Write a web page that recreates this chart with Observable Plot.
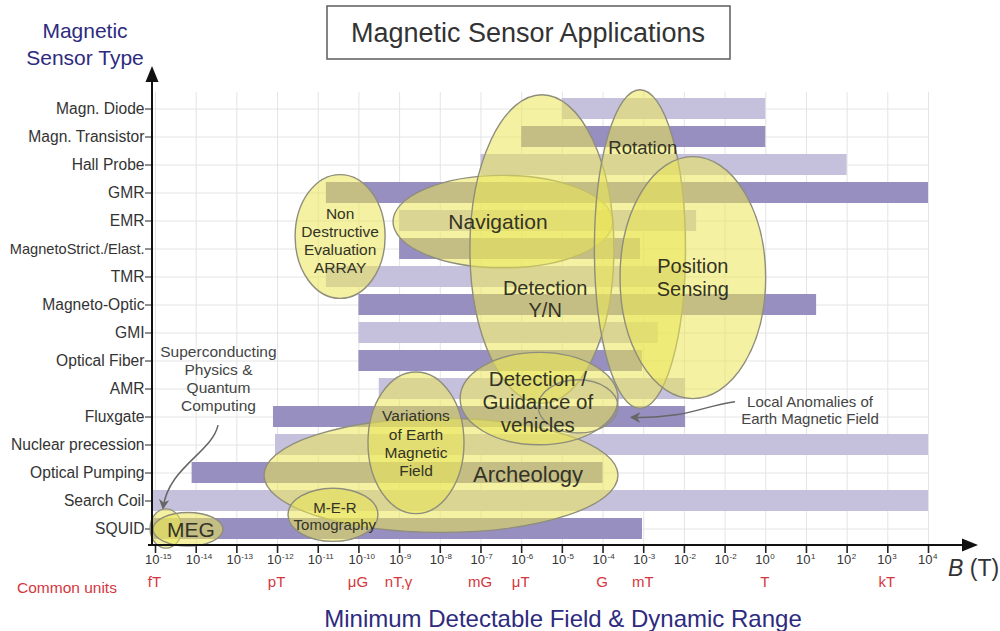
<!DOCTYPE html>
<html><head><meta charset="utf-8">
<script src="https://cdn.jsdelivr.net/npm/d3@7"></script>
<script src="https://cdn.jsdelivr.net/npm/@observablehq/plot@0.6"></script>
<style>body{margin:0;background:#fff} #chart{width:1000px;height:631px}</style>
</head><body><div id="chart"></div>
<script>
// ---- data ----
const categories = ["Magn. Diode","Magn. Transistor","Hall Probe","GMR","EMR","MagnetoStrict./Elast.","TMR","Magneto-Optic","GMI","Optical Fiber","AMR","Fluxgate","Nuclear precession","Optical Pumping","Search Coil","SQUID"];
// log10 of minimum detectable field and upper end of dynamic range (T)
const rangeStart = [-5, -6, -7, -10.8, -9, -9, -10.8, -10, -10, -10, -9.5, -12.1, -12.05, -14.1, -15.07, -15.07];
const rangeEnd   = [0, 0, 2, 4, -1.7, -3.08, -2, 1.25, -2.64, -3.03, -1.97, -1.97, 4, -4, 4, -3.03];
const tickExponents = [-15,-14,-13,-12,-11,-10,-9,-8,-7,-6,-5,-4,-3,-2,-1,0,1,2,3,4];
const tickExponentLabels = ["-15","-14","-13","-12","-11","-10","-9","-8","-7","-6","-5","-4","-3","-2","-2","0","1","2","3","4"];
const unitNames = ["fT","pT","μG","nT,γ","mG","μT","G","mT","T","kT"];
const unitExponents = [-15,-12,-10,-9,-7,-6,-4,-3,0,3];
// application areas: centre (log10 T, sensor row) and radii (decades, rows)
const ellipses = [
  {cx:-7.97, cy:13.10, rx:4.35, ry:2.04},   // Archeology
  {cx:-8.585, cy:11.94, rx:1.18, ry:2.53},  // Variations of Earth field
  {cx:-10.625, cy:14.51, rx:1.106, ry:0.95},// M-E-R
  {cx:-14.73, cy:15.0, rx:0.39, ry:0.70},   // superconducting
  {cx:-14.19, cy:15.03, rx:0.86, ry:0.60},  // MEG
  {cx:-10.45, cy:4.57, rx:1.106, ry:2.21},  // NDE
  {cx:-6.45, cy:4.04, rx:2.70, ry:1.65},    // Navigation
  {cx:-5.49, cy:5.02, rx:1.77, ry:5.51},    // Detection Y/N
  {cx:-3.08, cy:5.02, rx:1.12, ry:5.69},    // Rotation
  {cx:-1.78, cy:6.04, rx:1.79, ry:4.32},    // Position sensing
  {cx:-5.56, cy:10.36, rx:1.94, ry:1.65},   // Detection / guidance
  {cx:-4.60, cy:10.64, rx:0.98, ry:0.95, nofill:true} // local anomalies
];
const ellipseLabels = [
  {lines:["Non","Destructive","Evaluation","ARRAY"], cx:-10.45, cy:4.71, size:15.5, lh:17.8},
  {lines:["Navigation"], cx:-6.57, cy:4.04, size:21},
  {lines:["Detection","Y/N"], cx:-5.41, cy:6.81, size:20, lh:22.5},
  {lines:["Rotation"], cx:-3.01, cy:1.40, size:18.5},
  {lines:["Position","Sensing"], cx:-1.78, cy:6.02, size:20, lh:23},
  {lines:["Detection /","Guidance of","vehicles"], cx:-5.59, cy:10.47, size:20.5, lh:23},
  {lines:["Archeology"], cx:-5.83, cy:13.07, size:22},
  {lines:["Variations","of Earth","Magnetic","Field"], cx:-8.585, cy:11.96, size:15.5, lh:18.3},
  {lines:["M-E-R","Tomography"], cx:-10.58, cy:14.56, size:15, lh:17},
  {lines:["MEG"], cx:-14.115, cy:15.03, size:21}
];
const notes = [
  {lines:["Superconducting","Physics &","Quantum","Computing"], cx:-13.44, cy:9.66, size:15.5, lh:18},
  {lines:["Local Anomalies of","Earth Magnetic Field"], cx:1.10, cy:10.77, size:15, lh:17}
];
const arrows = [
  [[-13.45,11.31],[-13.60,12.29],[-14.68,12.82],[-14.80,14.26]],
  [[-0.744,10.47],[-1.60,10.64],[-1.85,11.06],[-3.28,11.03]]
];

// ---- chart ----
const FONT = "'Liberation Sans', Arial, Helvetica, sans-serif";
const DARK = "#968fbf", LIGHT = "#c5c0dc";
const sensors = categories.map((name, i) => ({name, lo: 10 ** rangeStart[i], hi: 10 ** rangeEnd[i], shade: i % 2}));
const W = 1000, H = 631, mL = 152, mR = 72, mT = 92, mB = 86;

const plot = Plot.plot({
  width: W, height: H, marginLeft: mL, marginRight: mR, marginTop: mT, marginBottom: mB,
  style: {fontFamily: FONT, background: "white", overflow: "visible"},
  x: {type: "log", domain: [1e-15, 1e4], range: [155, 928]},
  y: {type: "band", domain: categories, paddingInner: 0.26, paddingOuter: 0.087},
  marks: [
    Plot.gridX(tickExponents.map(e => 10 ** e), {stroke: "#e4e4e4", strokeOpacity: 1}),
    Plot.gridY(categories, {stroke: "#e4e4e4", strokeOpacity: 1}),
    Plot.barX(sensors, {x1: "lo", x2: "hi", y: "name", fill: d => d.shade ? DARK : LIGHT}),
    Plot.axisY({tickSize: 7, tickFormat: () => "", color: "#222", label: null}),
    Plot.text(categories, {y: d => d, frameAnchor: "left", dx: -8, textAnchor: "end",
      fontSize: d => d.length > 18 ? 14.6 : 15.6, fill: "#333"}),
    Plot.axisX(tickExponents.map(e => 10 ** e), {tickSize: 8, tickFormat: () => "", label: null, stroke: "#222", strokeWidth: 1.6}),
    Plot.text(tickExponents, {x: e => 10 ** e, text: () => "10", frameAnchor: "bottom", dy: 18.5, dx: 4, textAnchor: "end", fontSize: 13, fill: "#333"}),
    Plot.text(tickExponentLabels, {x: (d, i) => 10 ** tickExponents[i], text: d => d, frameAnchor: "bottom", dy: 13.5, dx: 4.5, textAnchor: "start", fontSize: 8, fill: "#333"}),
    Plot.text(unitNames, {x: (d, i) => 10 ** unitExponents[i], text: d => d, frameAnchor: "bottom", dy: 41, dx: -1, fontSize: 15, fill: "#d4373d"})
  ]
});
document.getElementById("chart").append(plot);

const svg = d3.select(plot);
const xs = plot.scale("x"), ys = plot.scale("y");
const X = d => xs.apply(10 ** d);
const step = ys.apply(categories[1]) - ys.apply(categories[0]);
const bw = ys.bandwidth ?? step * 0.74;
const y0 = ys.apply(categories[0]) + bw / 2;
const Y = r => y0 + r * step;

const defs = svg.append("defs");
defs.append("marker").attr("id", "ah").attr("viewBox", "0 0 10 10").attr("refX", 8).attr("refY", 5)
  .attr("markerWidth", 7).attr("markerHeight", 7).attr("orient", "auto-start-reverse")
  .append("path").attr("d", "M0,0L10,5L0,10L3,5Z").attr("fill", "#666");

const g = svg.append("g");
g.selectAll("ellipse").data(ellipses).join("ellipse")
  .attr("cx", d => X(d.cx)).attr("cy", d => Y(d.cy))
  .attr("rx", d => X(d.cx + d.rx) - X(d.cx)).attr("ry", d => d.ry * step)
  .attr("fill", d => d.nofill ? "none" : "#ebe656").attr("fill-opacity", 0.55)
  .attr("stroke", "#8f8e7c").attr("stroke-width", 1.4);

function drawLabels(list, color) {
  for (const L of list) {
    const lh = L.lh || L.size * 1.15;
    const t = g.append("text").attr("text-anchor", "middle").attr("font-size", L.size)
      .attr("fill", color).attr("font-family", FONT);
    L.lines.forEach((s, i) => {
      t.append("tspan").attr("x", X(L.cx)).attr("y", Y(L.cy) + (i - (L.lines.length - 1) / 2) * lh)
        .attr("dominant-baseline", "central").text(s);
    });
  }
}
drawLabels(ellipseLabels, "#333326");
drawLabels(notes, "#444");

for (const a of arrows) {
  const p = a.map(([d, r]) => [X(d), Y(r)]);
  g.append("path").attr("d", `M${p[0]}C${p[1]} ${p[2]} ${p[3]}`).attr("fill", "none")
    .attr("stroke", "#666").attr("stroke-width", 1.5).attr("marker-end", "url(#ah)");
}

// axis lines with arrows
const axY = H - mB;
g.append("line").attr("x1", mL - 4).attr("x2", W - 36).attr("y1", axY).attr("y2", axY).attr("stroke", "#111").attr("stroke-width", 2);
g.append("path").attr("d", `M${W - 22},${axY}L${W - 38},${axY - 6.5}L${W - 38},${axY + 6.5}Z`).attr("fill", "#111");
g.append("line").attr("x1", mL).attr("x2", mL).attr("y1", axY).attr("y2", 78).attr("stroke", "#111").attr("stroke-width", 2);
g.append("path").attr("d", `M${mL},66L${mL - 6.5},82L${mL + 6.5},82Z`).attr("fill", "#111");

// titles
const txt = (x, y, s, size, color, anchor = "middle") => g.append("text").attr("x", x).attr("y", y)
  .attr("font-size", size).attr("fill", color).attr("text-anchor", anchor)
  .attr("dominant-baseline", "central").attr("font-family", FONT).text(s);
txt(85, 30, "Magnetic", 21, "#2e2b7e");
txt(85, 57, "Sensor Type", 21, "#2e2b7e");
g.append("rect").attr("x", 327).attr("y", 6).attr("width", 403).attr("height", 53)
  .attr("fill", "white").attr("stroke", "#666").attr("stroke-width", 1.6);
txt(528, 33, "Magnetic Sensor Applications", 27, "#333");
txt(17, 587, "Common units", 15.5, "#d4373d", "start");
txt(563, 618, "Minimum Detectable Field & Dynamic Range", 24, "#2e2b7e");
const bt = txt(948, 568, "", 23, "#333", "start");
bt.append("tspan").attr("font-style", "italic").text("B");
bt.append("tspan").text(" (T)");
</script></body></html>
